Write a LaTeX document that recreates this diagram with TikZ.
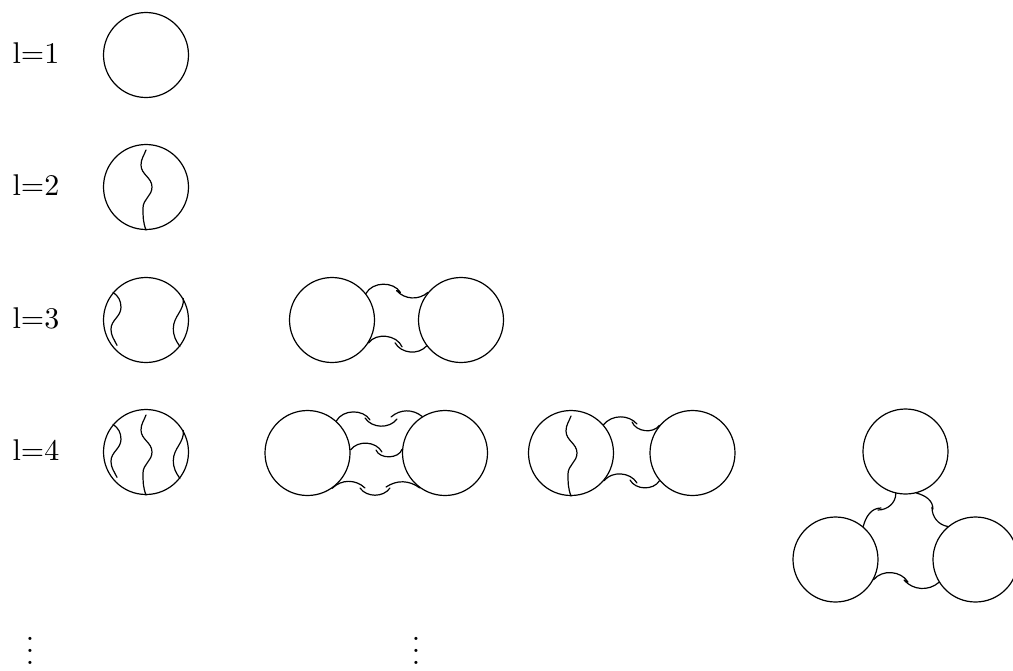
\documentclass[tikz,border=0pt]{standalone}
\usepackage{amsmath}
\usepackage{tikz}

\begin{document}
\begin{tikzpicture}[
    x=0.3333pt, y=0.3333pt,
    ring/.style={circle, draw, inner sep=0pt, minimum size=28.33pt},
    strand/.style={thin, line cap=round},
    lab/.style={inner sep=0pt}
  ]
    \useasboundingbox (0,0) rectangle (1013,670);
    % labels
    \node[lab] (lab1) at (36,617) {l=1};
    \node[lab] (lab2) at (36,485) {l=2};
    \node[lab] (lab3) at (36,352) {l=3};
    \node[lab] (lab4) at (36,220) {l=4};
    \node[lab, anchor=base] (dotsA) at (30,6) {$\vdots$};
    \node[lab, anchor=base] (dotsB) at (416,6) {$\vdots$};
    % circles
    \node[ring] (o1) at (146,615) {};
    \node[ring] (o2) at (146,483) {};
    \node[ring] (o3) at (146,350) {};
    \node[ring] (o4) at (146,218) {};
    \node[ring] (d3a) at (332,350) {};
    \node[ring] (d3b) at (461,350) {};
    \node[ring] (d4a) at (307.5,217) {};
    \node[ring] (d4b) at (445,217) {};
    \node[ring] (e4a) at (571,217) {};
    \node[ring] (e4b) at (692.5,217) {};
    \node[ring] (t4a) at (905.5,218.5) {};
    \node[ring] (t4b) at (835.5,110.5) {};
    \node[ring] (t4c) at (975.5,110.5) {};
    % strands inside the circles
    \draw[strand] (146,520) to[out=250,in=90] ++(-5,-15) to[out=-90,in=90] ++(11,-22)
        to[out=-90,in=90] ++(-9,-21) to[out=-90,in=110] (o2.south);
    \draw[strand] (o3.140) to[out=-35,in=90] ++(8,-15) to[out=-90,in=90] ++(-10,-22)
        to[out=-90,in=115] ++(6,-16);
    \draw[strand] (o3.30) to[out=-85,in=90] ++(-10,-30) to[out=-90,in=125] (o3.-38);
    \draw[strand] (o4.140) to[out=-35,in=90] ++(8,-15) to[out=-90,in=90] ++(-10,-22)
        to[out=-90,in=115] ++(6,-16);
    \draw[strand] (146,255) to[out=250,in=90] ++(-5,-15) to[out=-90,in=90] ++(11,-22)
        to[out=-90,in=90] ++(-9,-21) to[out=-90,in=110] (o4.south);
    \draw[strand] (o4.30) to[out=-85,in=90] ++(-10,-30) to[out=-90,in=125] (o4.-38);
    \draw[strand] (571,254) to[out=250,in=90] ++(-5,-15) to[out=-90,in=90] ++(11,-22)
        to[out=-90,in=90] ++(-9,-21) to[out=-90,in=110] (e4a.south);
    % l=3 pair
    \draw[strand] (d3a.38) to[bend left=60] ++(34.5,1) ++(-4,2) to[bend right=45] (d3b.140);
    \draw[strand] (d3a.-32) to[bend left=60] ++(33.5,-4) ++(-7,4) to[bend right=55] (d3b.217);
    % l=4 pair
    \draw[strand] (d4a.48) to[bend left=60] ++(33.7,1) ++(-5,2) to[bend right=55] ++(32,-1)
        ++(-6,2) to[bend left=40] (d4b.122);
    \draw[strand] (d4a.4) to[bend left=58] ++(31.5,-2) ++(-6,2) to[bend right=70] (d4b.175);
    \draw[strand] (d4a.-55) to[bend left=45] ++(32.8,0.3) ++(-5,0) to[bend right=55] ++(30,0)
        ++(-4,1) to[bend left=35] (d4b.234);
    % l=4 pair with strand
    \draw[strand] (e4a.41) to[bend left=50] ++(33.5,0.7) ++(-5,2) to[bend right=60] (e4b.140);
    \draw[strand] (e4a.-40) to[bend left=55] ++(33,-2.3) ++(-7,3) to[bend right=60] (e4b.220);
    % l=4 triangle
    \draw[strand] (t4a.-103) to[out=-90,in=0] ++(-17.8,-16.5) ++(3,2) to[out=180,in=75] (t4b.50);
    \draw[strand] (t4a.-75) to[out=-15,in=90] ++(16.3,-16) ++(-1,2) to[out=-90,in=170] (t4c.130);
    \draw[strand] (t4b.-28) to[bend left=55] ++(34.4,-2.3) ++(-4,2) to[bend right=45] (t4c.212);
\end{tikzpicture}
\end{document}
